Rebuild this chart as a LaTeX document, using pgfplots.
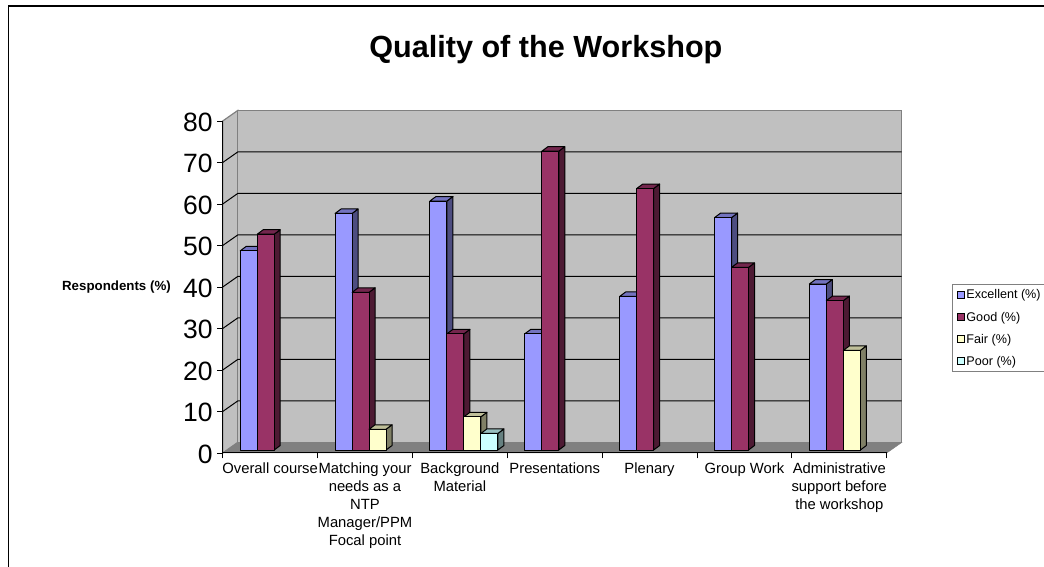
\documentclass[border=0pt]{standalone}
\usepackage{fontspec}
\setmainfont{Liberation Sans}
\usepackage{pgfplots}
\pgfplotsset{compat=1.18}

\definecolor{exc}{HTML}{9999FF}
\definecolor{excTop}{HTML}{7373BF}
\definecolor{excSide}{HTML}{4D4D80}
\definecolor{goo}{HTML}{993366}
\definecolor{gooTop}{HTML}{73264D}
\definecolor{gooSide}{HTML}{4D1A33}
\definecolor{fai}{HTML}{FFFFCC}
\definecolor{faiTop}{HTML}{BFBF99}
\definecolor{faiSide}{HTML}{808066}
\definecolor{poo}{HTML}{CCFFFF}
\definecolor{pooTop}{HTML}{99BFBF}
\definecolor{pooSide}{HTML}{668080}
\definecolor{wall}{HTML}{C0C0C0}
\definecolor{floorc}{HTML}{808080}

% wall depth in data units
\def\wx{0.158}
\def\wy{2.53}

% one bar: category, slot in group, value, colour prefix
\newcommand{\tdbar}[4]{%
  \pgfmathsetmacro\xa{#1+0.185+#2*0.179}%
  \pgfmathsetmacro\xb{\xa+0.179}%
  \pgfmathsetmacro\xc{\xb+0.0633}%
  \pgfmathsetmacro\xd{\xa+0.0633}%
  \pgfmathsetmacro\ya{0.72}%
  \pgfmathsetmacro\yb{0.72+#3}%
  \pgfmathsetmacro\yc{\yb+1.08}%
  \pgfmathsetmacro\yd{\ya+1.08}%
  \addplot[barface, fill=#4Side] coordinates {(\xb,\ya)(\xc,\yd)(\xc,\yc)(\xb,\yb)} -- cycle;
  \addplot[barface, fill=#4Top] coordinates {(\xa,\yb)(\xb,\yb)(\xc,\yc)(\xd,\yc)} -- cycle;
  \addplot[barface, fill=#4] coordinates {(\xa,\ya)(\xb,\ya)(\xb,\yb)(\xa,\yb)} -- cycle;
}

\begin{document}
\begin{tikzpicture}[x=1pt,y=1pt]
  \useasboundingbox (0,0) rectangle (1044,567);
  \draw[black, line width=1.3pt] (8.5,0) -- (8.5,561) -- (1044,561);
  \begin{axis}[
    at={(222.7pt,114pt)}, anchor=south west,
    scale only axis, width=664pt, height=332pt,
    xmin=0, xmax=7, ymin=0, ymax=80,
    clip=false,
    axis x line*=bottom, axis y line*=left,
    axis line style={-, black, line width=1pt},
    axis on top,
    tick style={black, line width=0.9pt},
    major tick length=5.5pt,
    tick align=outside,
    ytick={0,10,...,80},
    xtick={0,1,...,7},
    x tick label as interval,
    xticklabels={Overall course,
      {Matching your\\needs as a\\NTP\\Manager/PPM\\Focal point},
      {Background\\Material},
      Presentations, Plenary, Group Work,
      {Administrative\\support before\\the workshop}},
    xticklabel style={align=center, font=\fontsize{14.8}{18}\selectfont, anchor=north, yshift=-1pt},
    yticklabel style={font=\fontsize{26.5}{30}\selectfont, xshift=-1pt, yshift=-1pt},
    /pgf/number format/assume math mode=true,
    title={Quality of the Workshop},
    title style={at={(axis description cs:0.4867,1.172)}, anchor=base,
      font=\fontsize{30.6}{34}\selectfont\bfseries},
    ylabel={Respondents (\%)},
    ylabel style={at={(axis description cs:-0.16,0.5)}, rotate=-90, anchor=center,
      font=\fontsize{13.3}{16}\selectfont\bfseries},
    no marks,
    barface/.style={forget plot, draw=black, line width=1pt, line join=round},
    legend cell align=left,
    legend image code/.code={\draw[#1, line width=0.9pt, draw=black] (0pt,-3.5pt) rectangle (7pt,3.5pt);},
    legend style={at={(axis description cs:1.0984,0.508)}, anchor=north west,
      draw=floorc, line width=1pt, fill=white,
      font=\fontsize{12.6}{14}\selectfont,
      row sep=7.4pt, inner xsep=4pt, inner ysep=3pt,
      /tikz/column 2/.style={column sep=2pt},
      nodes={xshift=1pt}},
  ]
    % walls and floor
    \addplot[forget plot, fill=wall, draw=floorc, line width=1.2pt]
      coordinates {(0,0)(\wx,\wy)(\wx,82.53)(0,80)} -- cycle;
    \addplot[forget plot, fill=wall, draw=floorc, line width=1.2pt]
      coordinates {(\wx,\wy)(7.158,\wy)(7.158,82.53)(\wx,82.53)} -- cycle;
    \addplot[forget plot, fill=floorc, draw=floorc, line width=0.5pt]
      coordinates {(0,0)(7,0)(7.158,\wy)(\wx,\wy)} -- cycle;

    % gridlines on the walls
    \pgfplotsinvokeforeach{10,20,...,70}{
      \pgfmathsetmacro\gy{#1+\wy}
      \addplot[forget plot, draw=black, line width=1pt]
        coordinates {(0,#1)(\wx,\gy)(7.158,\gy)};
    }

    % Overall course
    \tdbar{0}{0}{48}{exc}
    \tdbar{0}{1}{52}{goo}
    % Matching your needs
    \tdbar{1}{0}{57}{exc}
    \tdbar{1}{1}{38}{goo}
    \tdbar{1}{2}{5}{fai}
    % Background material
    \tdbar{2}{0}{60}{exc}
    \tdbar{2}{1}{28}{goo}
    \tdbar{2}{2}{8}{fai}
    \tdbar{2}{3}{4}{poo}
    % Presentations
    \tdbar{3}{0}{28}{exc}
    \tdbar{3}{1}{72}{goo}
    % Plenary
    \tdbar{4}{0}{37}{exc}
    \tdbar{4}{1}{63}{goo}
    % Group work
    \tdbar{5}{0}{56}{exc}
    \tdbar{5}{1}{44}{goo}
    % Administrative support
    \tdbar{6}{0}{40}{exc}
    \tdbar{6}{1}{36}{goo}
    \tdbar{6}{2}{24}{fai}

    \addlegendimage{fill=exc}
    \addlegendentry{Excellent (\%)}
    \addlegendimage{fill=goo}
    \addlegendentry{Good (\%)}
    \addlegendimage{fill=fai}
    \addlegendentry{Fair (\%)}
    \addlegendimage{fill=poo}
    \addlegendentry{Poor (\%)}
  \end{axis}
\end{tikzpicture}
\end{document}
